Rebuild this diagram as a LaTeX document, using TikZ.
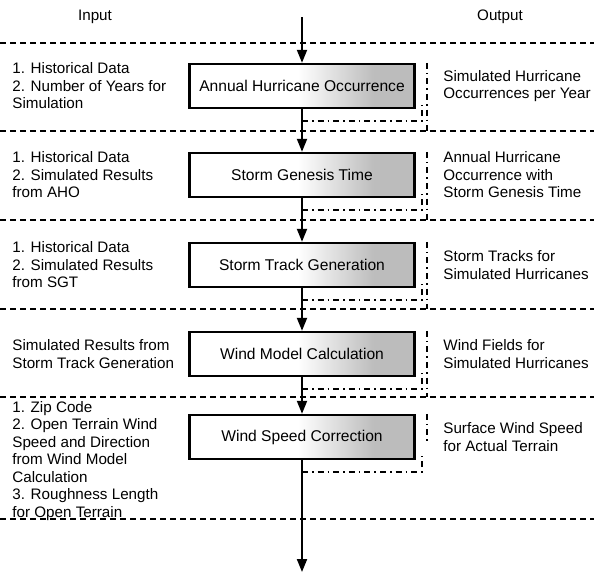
\documentclass[tikz,border=0pt]{standalone}
\usepackage{fontspec}
\setmainfont{Liberation Sans}
\usetikzlibrary{arrows.meta,calc}
\pgfdeclarehorizontalshading{pontilhado}{100bp}{color(0bp)=(white); color(49bp)=(white); color(66bp)=(black!26); color(100bp)=(black!28)}

\begin{document}
\begin{tikzpicture}[
  x=0.5pt, y=-0.5pt,
  every node/.style={font=\fontsize{7.6}{8.75}\selectfont, inner sep=0pt},
  >={Triangle[length=6.5pt,width=5pt]}
]
\tikzset{
  caixa/.style={draw, line width=1.2pt, minimum width=112.5pt, minimum height=22pt,
    shading=pontilhado, font=\fontsize{7.8}{9}\selectfont},
  entrada/.style={anchor=west, align=left},
  saida/.style={anchor=west, align=left},
  tracejado/.style={line width=0.7pt, dash pattern=on 3pt off 2pt},
  sombra/.style={line width=0.9pt, dash pattern=on 3pt off 2pt on 0.8pt off 2pt},
  fluxo/.style={->, line width=1pt}
}
\useasboundingbox (0,0) rectangle (594,573);

\node (input) at (95,17) {Input};
\node (output) at (500,17) {Output};

\foreach \y in {43,131,220,309,397,519}
  \draw[tracejado] (0,\y) -- (594,\y);

\node[caixa] (aho) at (302,86) {Annual Hurricane Occurrence};
\node[caixa] (sgt) at (302,175) {Storm Genesis Time};
\node[caixa] (stg) at (302,265) {Storm Track Generation};
\node[caixa] (wmc) at (302,354) {Wind Model Calculation};
\node[caixa] (wsc) at (302,437) {Wind Speed Correction};

\coordinate (inicio) at (302,17);
\coordinate (fim) at (302,572);

\foreach \n/\s in {aho/131, sgt/220, stg/309, wmc/397, wsc/442} {
  \draw[sombra] ($(\n.south)+(0,12)$) -- ($(\n.south east)+(6,12)$) -- ($(\n.south east)+(6,-8)$);
  \draw[sombra] (\n.north east -| 427,0) -- (427,\s);
}

\draw[fluxo] (inicio) -- (aho);
\draw[fluxo] (aho) -- (sgt);
\draw[fluxo] (sgt) -- (stg);
\draw[fluxo] (stg) -- (wmc);
\draw[fluxo] (wmc) -- (wsc);
\draw[fluxo] (wsc) -- (fim);

\node[entrada] (e1) at (12,86) {1. Historical Data\\2. Number of Years for\\Simulation};
\node[entrada] (e2) at (12,175) {1. Historical Data\\2. Simulated Results\\from AHO};
\node[entrada] (e3) at (12,265) {1. Historical Data\\2. Simulated Results\\from SGT};
\node[entrada] (e4) at (12,354) {Simulated Results from\\Storm Track Generation};
\node[entrada] (e5) at (12,461) {1. Zip Code\\2. Open Terrain Wind\\Speed and Direction\\from Wind Model\\Calculation\\3. Roughness Length\\for Open Terrain};

\node[saida] (s1) at (443,86) {Simulated Hurricane\\Occurrences per Year};
\node[saida] (s2) at (443,175) {Annual Hurricane\\Occurrence with\\Storm Genesis Time};
\node[saida] (s3) at (443,265) {Storm Tracks for\\Simulated Hurricanes};
\node[saida] (s4) at (443,354) {Wind Fields for\\Simulated Hurricanes};
\node[saida] (s5) at (443,437) {Surface Wind Speed\\for Actual Terrain};
\end{tikzpicture}
\end{document}
